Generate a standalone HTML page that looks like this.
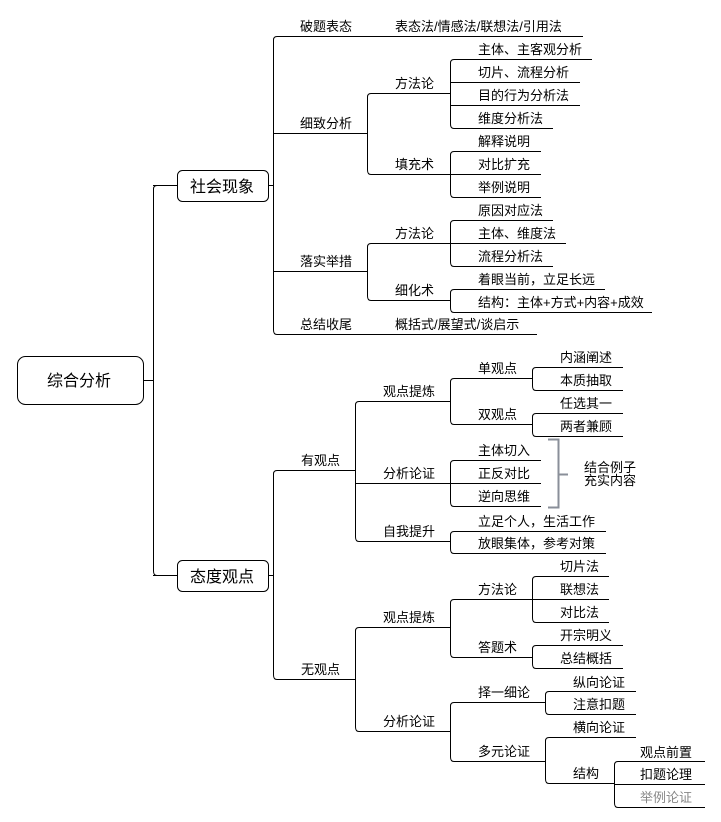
<!DOCTYPE html>
<html><head><meta charset="utf-8"><style>
body{margin:0;background:#fff}
svg{display:block}
text{font-family:"Liberation Sans","Noto Sans CJK SC",sans-serif;font-size:13px;fill:#000}
.b{font-size:16px}
</style></head><body>
<svg width="721" height="822" viewBox="0 0 721 822" xmlns="http://www.w3.org/2000/svg">
<g fill="none" stroke="#000" stroke-width="1">
<rect x="17.5" y="356.5" width="126" height="48" rx="8"/>
<rect x="177.5" y="170.5" width="91" height="31" rx="5"/>
<rect x="177.5" y="560.5" width="91" height="31" rx="5"/>
<path d="M143 380.5H153.5M157 185.5Q153.5 185.5 153.5 189V571Q153.5 575.5 157 575.5M153 185.5H177M153 575.5H177"/>
<path d="M268 185.5H273.5M277 36.5Q273.5 36.5 273.5 40V330Q273.5 334.5 277 334.5M273 133.5H360M273 271.5H360M277 36.5H583M277 334.5H537"/>
<path d="M360 133.5H367.5M371 93.5Q367.5 93.5 367.5 97V170Q367.5 174.5 371 174.5M371 93.5H450.5M371 174.5H450.5"/>
<path d="M454 59.5Q450.5 59.5 450.5 63V124Q450.5 128.5 454 128.5M454 59.5H592M450 82.5H580M450 105.5H580M454 128.5H553"/>
<path d="M454 151.5Q450.5 151.5 450.5 155V193Q450.5 197.5 454 197.5M454 151.5H541M450 174.5H541M454 197.5H541"/>
<path d="M360 271.5H367.5M371 243.5Q367.5 243.5 367.5 247V296Q367.5 300.5 371 300.5M371 243.5H450.5M371 300.5H450.5"/>
<path d="M454 220.5Q450.5 220.5 450.5 224V262Q450.5 266.5 454 266.5M454 220.5H553M450 243.5H566M454 266.5H553"/>
<path d="M454 289.5Q450.5 289.5 450.5 293V308Q450.5 312.5 454 312.5M454 289.5H605M454 312.5H652"/>
<path d="M268 575.5H273.5M277 470.5Q273.5 470.5 273.5 474V675Q273.5 679.5 277 679.5M277 470.5H355M277 679.5H355"/>
<path d="M359 401.5Q355.5 401.5 355.5 405V537Q355.5 541.5 359 541.5M355 470.5H355M359 401.5H450M355 483.5H450M359 541.5H450"/>
<path d="M454 378.5Q450.5 378.5 450.5 382V420Q450.5 424.5 454 424.5M450 401.5H451M454 378.5H532M454 424.5H532"/>
<path d="M536 367.5Q532.5 367.5 532.5 371V386Q532.5 390.5 536 390.5M536 367.5H623M536 390.5H623"/>
<path d="M536 413.5Q532.5 413.5 532.5 417V432Q532.5 436.5 536 436.5M536 413.5H623M536 436.5H623"/>
<path d="M454 460.5Q450.5 460.5 450.5 464V502Q450.5 506.5 454 506.5M454 460.5H541M450 483.5H541M454 506.5H541"/>
<path d="M454 531.5Q450.5 531.5 450.5 535V549Q450.5 553.5 454 553.5M454 531.5H606M454 553.5H606"/>
<path d="M359 627.5Q355.5 627.5 355.5 631V727Q355.5 731.5 359 731.5M359 627.5H450M359 731.5H450"/>
<path d="M454 599.5Q450.5 599.5 450.5 603V653Q450.5 657.5 454 657.5M450 627.5H451M454 599.5H532M454 657.5H532"/>
<path d="M536 576.5Q532.5 576.5 532.5 580V618Q532.5 622.5 536 622.5M536 576.5H609M532 599.5H609M536 622.5H609"/>
<path d="M536 645.5Q532.5 645.5 532.5 649V664Q532.5 668.5 536 668.5M536 645.5H623M536 668.5H623"/>
<path d="M454 702.5Q450.5 702.5 450.5 706V757Q450.5 761.5 454 761.5M450 731.5H451M454 702.5H545M454 761.5H545"/>
<path d="M549 691.5Q545.5 691.5 545.5 695V710Q545.5 714.5 549 714.5M549 691.5H636M549 714.5H636"/>
<path d="M549 737.5Q545.5 737.5 545.5 741V779Q545.5 783.5 549 783.5M549 737.5H636M549 783.5H614.5"/>
<path d="M618 761.5Q614.5 761.5 614.5 765V803Q614.5 807.5 618 807.5M618 761.5H705M614 784.5H705M618 807.5H705"/>
</g>
<path d="M548 439.5H558.5V507.5H548M558.5 474.5H568" fill="none" stroke="#8a8f99" stroke-width="2"/>
<text class="b" x="47" y="386">综合分析</text>
<text class="b" x="190" y="192">社会现象</text>
<text class="b" x="190" y="582">态度观点</text>
<text x="300" y="31">破题表态</text><text x="300" y="128">细致分析</text><text x="300" y="266">落实举措</text><text x="300" y="329">总结收尾</text>
<text x="395" y="31">表态法/情感法/联想法/引用法</text>
<text x="395" y="88">方法论</text><text x="395" y="169">填充术</text><text x="395" y="238">方法论</text><text x="395" y="295">细化术</text><text x="395" y="329">概括式/展望式/谈启示</text>
<text x="478" y="54">主体、主客观分析</text><text x="478" y="77">切片、流程分析</text><text x="478" y="100">目的行为分析法</text><text x="478" y="123">维度分析法</text>
<text x="478" y="146">解释说明</text><text x="478" y="169">对比扩充</text><text x="478" y="192">举例说明</text>
<text x="478" y="215">原因对应法</text><text x="478" y="238">主体、维度法</text><text x="478" y="261">流程分析法</text>
<text x="478" y="284">着眼当前，立足长远</text><text x="478" y="307">结构：主体+方式+内容+成效</text>
<text x="301" y="465">有观点</text><text x="301" y="674">无观点</text>
<text x="383" y="396">观点提炼</text><text x="383" y="478">分析论证</text><text x="383" y="536">自我提升</text>
<text x="478" y="373">单观点</text><text x="478" y="419">双观点</text>
<text x="560" y="362">内涵阐述</text><text x="560" y="385">本质抽取</text><text x="560" y="408">任选其一</text><text x="560" y="431">两者兼顾</text>
<text x="478" y="455">主体切入</text><text x="478" y="478">正反对比</text><text x="478" y="501">逆向思维</text>
<text x="584" y="472">结合例子</text><text x="584" y="485">充实内容</text>
<text x="478" y="526">立足个人，生活工作</text><text x="478" y="548">放眼集体，参考对策</text>
<text x="383" y="622">观点提炼</text><text x="383" y="726">分析论证</text>
<text x="478" y="594">方法论</text><text x="478" y="652">答题术</text>
<text x="560" y="571">切片法</text><text x="560" y="594">联想法</text><text x="560" y="617">对比法</text><text x="560" y="640">开宗明义</text><text x="560" y="663">总结概括</text>
<text x="478" y="697">择一细论</text><text x="478" y="756">多元论证</text>
<text x="573" y="687">纵向论证</text><text x="573" y="709">注意扣题</text><text x="573" y="732">横向论证</text><text x="573" y="778">结构</text>
<text x="640" y="757">观点前置</text><text x="640" y="779">扣题论理</text><text x="640" y="802" style="fill:#888">举例论证</text>
</svg>
</body></html>
